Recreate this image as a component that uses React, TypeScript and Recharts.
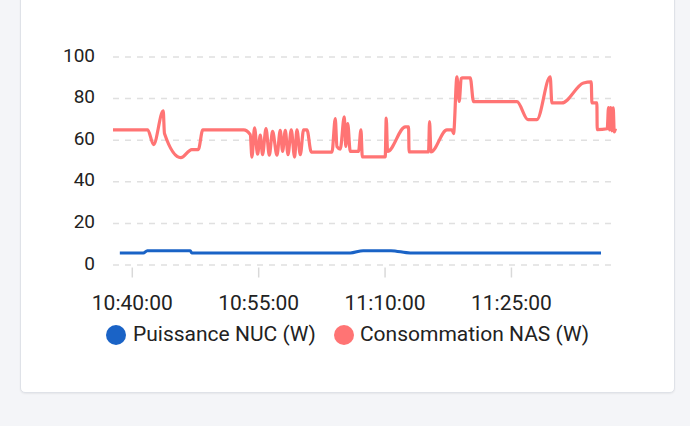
import React from 'react';
import { LineChart, Line, XAxis, YAxis, CartesianGrid, Legend } from 'recharts';

// time = minutes after 10:00:00
const nucTimes = [38.52, 41.31, 41.78, 46.88, 47.06, 65.87, 67.4, 70.7, 72.99, 95.63];
const nucValues = [5.8, 5.8, 6.9, 6.9, 5.8, 5.8, 6.9, 6.9, 5.8, 5.8];

const nasTimes = [
  37.71, 41.83, 42.52, 43.67, 43.82, 45.76, 47.06, 47.83, 48.37, 53.21,
  54.0, 54.2, 54.51, 54.87, 55.19, 55.46, 55.87, 56.26, 56.65, 57.17,
  57.56, 57.84, 58.16, 58.48, 58.87, 59.26, 59.54, 59.94, 60.33, 60.73,
  61.24, 63.7, 64.09, 64.29, 64.68, 65.16, 65.34, 65.57, 65.87, 66.85,
  67.14, 67.3, 70.02, 70.14, 70.3, 72.4, 72.79, 72.85, 75.16, 75.28,
  75.45, 77.34, 77.94, 78.13, 78.53, 78.8, 79.04, 79.2, 80.11, 80.5,
  85.65, 86.96, 88.02, 89.6, 89.8, 90.99, 93.55, 94.47, 94.55, 95.14,
  95.18, 96.37, 96.52, 96.64, 96.78, 96.92, 97.08, 97.2, 97.35,
];
const nasValues = [
  65, 65, 57.9, 74.1, 63.2, 51.6, 55.5, 55.5, 65, 65,
  62.7, 51.9, 65.9, 53.3, 62.4, 53, 65.6, 52.8, 64.2, 52.8,
  64.7, 54.6, 64.7, 53, 65, 51.9, 65, 53, 65, 65,
  54.3, 54.3, 70.4, 56.9, 55.7, 71.2, 57, 68, 54.6, 54.6,
  65, 52, 52, 70.6, 54.6, 66.4, 66.4, 54.4, 54.4, 69,
  54.4, 65, 65, 63.2, 90.5, 78.6, 89.6, 90, 90, 78.5,
  78.5, 69.9, 69.9, 90.5, 77.9, 77.9, 87.5, 88, 77.9, 77.9,
  65.1, 65.5, 75.7, 65, 75.7, 64.5, 75.5, 64, 65.6,
];

const yTicks = [0, 20, 40, 60, 80, 100];
const xTicks = [40, 55, 70, 85];
const seriesNames = ['Puissance NUC (W)', 'Consommation NAS (W)'];
const colors = ['#1a63c6', '#ff7474'];

const nucData = nucTimes.map((t, i) => ({ t, v: nucValues[i] }));
const nasData = nasTimes.map((t, i) => ({ t, v: nasValues[i] }));

const pad = (n: number) => String(n).padStart(2, '0');
const fmtTime = (m: number) => {
  const total = Math.round(m * 60);
  const h = 10 + Math.floor(total / 3600);
  const mm = Math.floor((total % 3600) / 60);
  const s = total % 60;
  return `${h}:${pad(mm)}:${pad(s)}`;
};

const FONT = 'Roboto, "Noto Sans", sans-serif';

const XTick = (props: any) => {
  const { x, y, payload } = props;
  return (
    <g>
      <line x1={x} x2={x} y1={y + 2.5} y2={y + 12.5} stroke="#d9d9d9" strokeWidth={1.5} />
      <text x={x} y={y + 44.5} textAnchor="middle" fill="#222" fontSize={21} fontFamily={FONT}>
        {fmtTime(payload.value)}
      </text>
    </g>
  );
};

const YTick = (props: any) => {
  const { x, y, payload } = props;
  return (
    <text x={x} y={y + 4.5} textAnchor="end" fill="#222" fontSize={19} fontFamily={FONT}>
      {payload.value}
    </text>
  );
};

const LegendContent = (props: any) => {
  const payload = [...(props.payload || [])].sort(
    (a: any, b: any) => seriesNames.indexOf(a.value) - seriesNames.indexOf(b.value)
  );
  return (
    <div
      style={{
        display: 'flex',
        justifyContent: 'center',
        alignItems: 'center',
        height: 30,
        fontFamily: FONT,
        fontSize: 21,
        color: '#222',
      }}
    >
      {payload.map((p: any, i: number) => (
        <div key={i} style={{ display: 'flex', alignItems: 'center', marginLeft: i ? 18 : 0 }}>
          <span
            style={{
              width: 20,
              height: 20,
              borderRadius: '50%',
              background: p.color,
              display: 'inline-block',
              marginRight: i ? 6 : 7,
              marginTop: 2,
            }}
          />
          <span style={{ whiteSpace: 'nowrap' }}>{p.value}</span>
        </div>
      ))}
    </div>
  );
};

export default function App() {
  return (
    <div style={{ position: 'fixed', inset: 0, background: '#f4f5f8', overflow: 'hidden' }}>
      <div
        style={{
          position: 'absolute',
          left: 20,
          top: -20,
          width: 655,
          height: 413,
          boxSizing: 'border-box',
          background: '#fff',
          border: '1px solid #dfe2e8',
          borderRadius: 5,
          boxShadow: '0 1px 2px rgba(0,0,0,0.06)',
        }}
      />
      <div style={{ position: 'absolute', left: 0, top: 0 }}>
        <LineChart width={690} height={426} margin={{ top: 57, right: 74.5, left: 0, bottom: 77 }}>
          <CartesianGrid vertical={false} stroke="#e0e0e0" strokeWidth={1.5} strokeDasharray="6 6" />
          <XAxis
            type="number"
            dataKey="t"
            domain={['dataMin', 'dataMax']}
            ticks={xTicks}
            axisLine={false}
            tickLine={false}
            tickSize={0}
            tickMargin={0}
            height={54}
            tick={<XTick />}
          />
          <YAxis
            type="number"
            domain={[0, 100]}
            ticks={yTicks}
            axisLine={false}
            tickLine={false}
            tickSize={0}
            tickMargin={18}
            width={113}
            tick={<YTick />}
          />
          <Legend
            verticalAlign="bottom"
            content={<LegendContent />}
            wrapperStyle={{ left: 0, width: 690, paddingLeft: 5, boxSizing: 'border-box' }}
          />
          <Line
            data={nucData}
            dataKey="v"
            name={seriesNames[0]}
            type="monotone"
            stroke={colors[0]}
            strokeWidth={3}
            dot={false}
            activeDot={false}
            isAnimationActive={false}
          />
          <Line
            data={nasData}
            dataKey="v"
            name={seriesNames[1]}
            type="monotone"
            stroke={colors[1]}
            strokeWidth={3.2}
            dot={false}
            activeDot={false}
            isAnimationActive={false}
          />
        </LineChart>
      </div>
    </div>
  );
}
